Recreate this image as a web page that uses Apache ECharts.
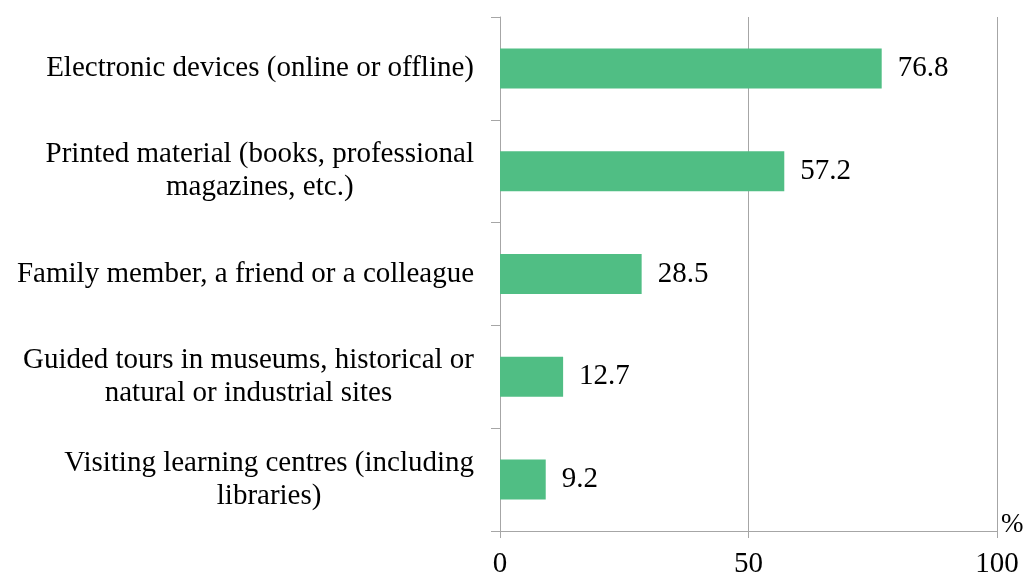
<!DOCTYPE html>
<html>
<head>
<meta charset="utf-8">
<script src="https://cdn.jsdelivr.net/npm/echarts@6/dist/echarts.min.js"></script>
<style>
  html, body { margin: 0; padding: 0; background: #fff; }
  #chart { width: 1024px; height: 572px; }
</style>
</head>
<body>
<div id="chart"></div>
<script>
// data
var categories = [
    'Electronic devices (online or offline)',
    'Printed material (books, professional\nmagazines, etc.)',
    'Family member, a friend or a colleague',
    'Guided tours in museums, historical or\nnatural or industrial sites',
    'Visiting learning centres (including\nlibraries)'
];
var values = [76.8, 57.2, 28.5, 12.7, 9.2];
var xTicks = [0, 50, 100];

var FONT = '"Liberation Serif", "Times New Roman", serif';
var FS = 29;
var GREY = '#a6a6a6';

var myChart = echarts.init(document.getElementById('chart'), null, { renderer: 'canvas' });

var option = {
    animation: false,
    backgroundColor: '#fff',
    grid: { left: 500, right: 27, top: 17, bottom: 41, containLabel: false, outerBoundsMode: 'none' },
    xAxis: {
        type: 'value',
        min: xTicks[0],
        max: xTicks[xTicks.length - 1],
        interval: xTicks[1] - xTicks[0],
        name: '%',
        nameLocation: 'end',
        nameGap: 4,
        nameTextStyle: {
            fontFamily: FONT, fontSize: 27, color: '#000',
            verticalAlign: 'bottom', lineHeight: 12
        },
        axisLine: { show: true, lineStyle: { color: GREY, width: 1 } },
        axisTick: { show: true, length: 7, lineStyle: { color: GREY } },
        axisLabel: { fontFamily: FONT, fontSize: FS, color: '#000', margin: 19 },
        splitLine: { show: true, lineStyle: { color: GREY, width: 1 } }
    },
    yAxis: {
        type: 'category',
        data: categories,
        inverse: true,
        axisLine: { show: true, lineStyle: { color: GREY, width: 1 } },
        axisTick: { show: true, length: 9, lineStyle: { color: GREY } },
        axisLabel: {
            margin: 26,
            color: '#000',
            fontFamily: FONT,
            fontSize: FS,
            lineHeight: 33,
            align: 'right',
            formatter: function (v) {
                return v.split('\n').map(function (s) { return '{c|' + s + '}'; }).join('\n');
            },
            rich: {
                c: { align: 'center', fontFamily: FONT, fontSize: FS, lineHeight: 33, color: '#000' }
            }
        }
    },
    series: [{
        type: 'bar',
        data: values,
        barWidth: 40,
        itemStyle: { color: '#50be84' },
        label: {
            show: true,
            position: 'right',
            distance: 16,
            fontFamily: FONT,
            fontSize: FS,
            color: '#000',
            formatter: function (p) { return p.value.toFixed(1); }
        }
    }]
};

myChart.setOption(option);
</script>
</body>
</html>
